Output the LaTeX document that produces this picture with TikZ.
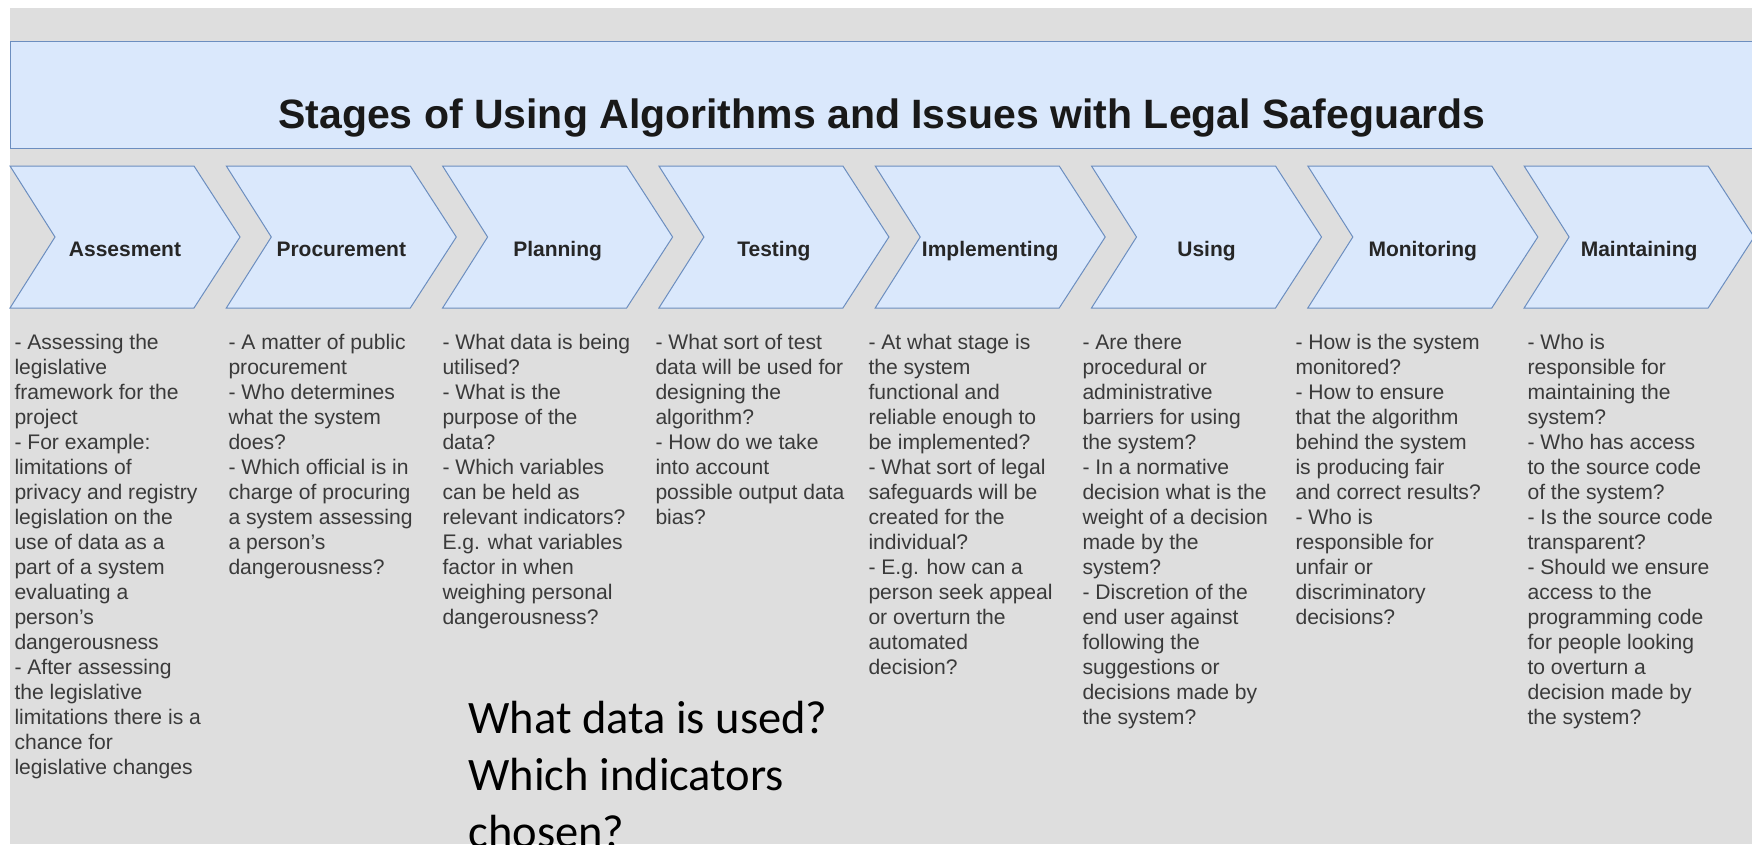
\documentclass[tikz,border=0pt]{standalone}
\usepackage{fontspec}
\setmainfont{Liberation Sans}
\newfontfamily\calibri{Carlito}
\usetikzlibrary{positioning}
\definecolor{cfill}{HTML}{DAE8FC}
\definecolor{cline}{HTML}{6C8EBF}
\definecolor{cback}{HTML}{DEDEDE}
\definecolor{ctext}{HTML}{3A3A3A}
\tikzset{
  every picture/.style={x=1pt, y=-1pt, line width=1pt},
  stage/.style={draw=cline, fill=cfill},
  stagelabel/.style={font=\fontsize{21}{25}\selectfont\bfseries, text=black!85, inner sep=0pt},
  issues/.style={anchor=north west, align=left, inner sep=0pt, text=ctext, font=\fontsize{21.1}{25}\selectfont},
  title/.style={font=\fontsize{41}{48}\selectfont\bfseries, text=black!90, inner sep=0pt},
  remark/.style={anchor=north west, align=left, inner sep=0pt, font=\calibri\fontsize{46.5}{57}\selectfont},
}

\begin{document}
\begin{tikzpicture}
  \useasboundingbox (0,0) rectangle (1752,844);
  % backdrop
  \fill[white] (0,0) rectangle (1752,844);
  \fill[cback] (10,8) rectangle (1752,844);
  % heading bar
  \draw[stage] (10,41) rectangle (1760,148);
  \node[title, anchor=base] (title) at (882,128) {Stages of Using Algorithms and Issues with Legal Safeguards};
  % stage chevrons
  \foreach \i/\l in {0/Assesment,1/Procurement,2/Planning,3/Testing,4/Implementing,5/Using,6/Monitoring,7/Maintaining} {
    \pgfmathsetmacro{\x}{10+216.3*\i}
    \draw[stage] (\x,166) -- ++(184,0) -- ++(46,71) -- ++(-46,71) -- ++(-184,0) -- ++(45,-71) -- cycle;
    \node[stagelabel, anchor=base] (s\i) at (\x+115,256) {\l};
  }
  % issues under each stage
  \node[issues] (c0) at (14,334) {- Assessing the\\legislative\\framework for the\\project\\- For example:\\limitations of\\privacy and registry\\legislation on the\\use of data as a\\part of a system\\evaluating a\\person's\\dangerousness\\- After assessing\\the legislative\\limitations there is a\\chance for\\legislative changes};
  \node[issues] (c1) at (228,334) {- A matter of public\\procurement\\- Who determines\\what the system\\does?\\- Which official is in\\charge of procuring\\a system assessing\\a person's\\dangerousness?};
  \node[issues] (c2) at (442,334) {- What data is being\\utilised?\\- What is the\\purpose of the\\data?\\- Which variables\\can be held as\\relevant indicators?\\E.g. what variables\\factor in when\\weighing personal\\dangerousness?};
  \node[issues] (c3) at (655,334) {- What sort of test\\data will be used for\\designing the\\algorithm?\\- How do we take\\into account\\possible output data\\bias?};
  \node[issues] (c4) at (868,334) {- At what stage is\\the system\\functional and\\reliable enough to\\be implemented?\\- What sort of legal\\safeguards will be\\created for the\\individual?\\- E.g. how can a\\person seek appeal\\or overturn the\\automated\\decision?};
  \node[issues] (c5) at (1082,334) {- Are there\\procedural or\\administrative\\barriers for using\\the system?\\- In a normative\\decision what is the\\weight of a decision\\made by the\\system?\\- Discretion of the\\end user against\\following the\\suggestions or\\decisions made by\\the system?};
  \node[issues] (c6) at (1295,334) {- How is the system\\monitored?\\- How to ensure\\that the algorithm\\behind the system\\is producing fair\\and correct results?\\- Who is\\responsible for\\unfair or\\discriminatory\\decisions?};
  \node[issues] (c7) at (1527,334) {- Who is\\responsible for\\maintaining the\\system?\\- Who has access\\to the source code\\of the system?\\- Is the source code\\transparent?\\- Should we ensure\\access to the\\programming code\\for people looking\\to overturn a\\decision made by\\the system?};
  % note on planning
  \node[remark] (note) at (468,701) {What data is used?\\Which indicators\\chosen?};
\end{tikzpicture}
\end{document}
